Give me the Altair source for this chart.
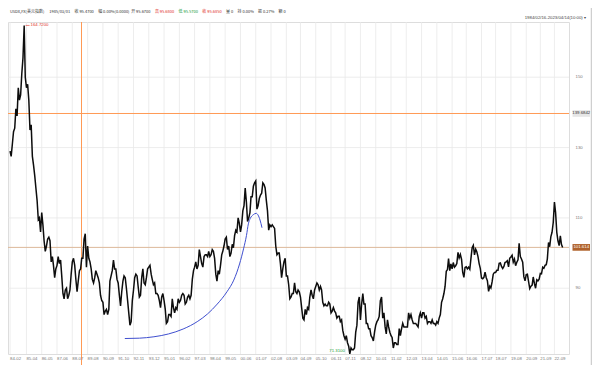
import altair as alt
import pandas as pd

# ---------------- data ----------------
# monthly USDX values, starting 1984-02
usdx_1984_1989 = [
    129.0, 127.5, 131.0, 134.5, 135.5, 141.0, 139.0, 147.0, 143.5, 145.0, 151.0,
    155.5, 164.72, 150.0, 147.0, 148.0, 143.5, 135.0, 136.5, 127.5, 125.0, 122.0, 118.5,
    115.0, 109.5, 110.0, 106.0, 111.5, 108.0, 103.5, 100.5, 102.0, 104.0, 104.5, 103.5,
    97.5, 99.0, 96.5, 93.0, 95.5, 96.5, 99.0, 97.0, 98.0, 93.5, 88.5, 87.0,
    89.5, 90.0, 87.0, 88.0, 89.5, 94.0, 97.5, 98.5, 96.5, 92.5, 89.0, 92.0,
    95.0, 95.5, 98.5, 98.5, 104.0, 105.5, 96.0, 102.0, 98.5, 97.5, 95.5, 92.5,
]
usdx_1990s = [
    91.5, 93.0, 95.0, 94.0, 93.0, 91.5, 88.0, 86.5, 86.0, 82.5, 83.5, 84.0,
    82.5, 84.0, 92.0, 93.5, 95.0, 98.0, 95.5, 95.5, 92.5, 91.5, 88.0, 85.0,
    89.0, 92.0, 93.5, 93.0, 90.0, 86.5, 83.0, 79.5, 80.5, 86.5, 89.5, 93.0,
    94.0, 93.5, 90.5, 87.5, 88.0, 93.0, 95.5, 91.5, 91.0, 93.0, 95.5, 96.0,
    96.5, 94.0, 92.5, 91.0, 91.5, 88.5, 88.5, 88.0, 86.5, 84.5, 87.5, 88.5,
    86.5, 84.0, 80.0, 80.5, 82.5, 82.5, 82.0, 87.0, 84.5, 83.0, 84.5, 84.0,
    87.0, 86.0, 86.5, 88.0, 88.5, 88.0, 85.5, 86.0, 87.5, 88.0, 87.0, 88.0,
    92.5, 95.0, 96.0, 97.5, 95.5, 96.5, 101.0, 99.0, 97.0, 96.0, 99.0, 99.5,
    99.5, 99.0, 100.5, 99.0, 99.5, 101.0, 100.5, 98.5, 94.0, 92.0, 95.0, 94.0,
    96.5, 99.5, 100.5, 102.0, 104.0, 104.5, 101.0, 102.0, 99.0, 100.0, 102.5, 101.5,
]
usdx_2000s = [
    105.0, 106.5, 106.0, 110.0, 108.5, 106.0, 108.0, 112.0, 113.5, 118.5, 114.5, 109.0,
    110.0, 111.5, 116.0, 116.0, 119.0, 120.0, 120.5, 112.5, 113.5, 115.5, 116.5, 117.0,
    120.0, 119.5, 118.5, 115.0, 112.0, 106.5, 108.0, 107.5, 108.0, 107.5, 107.0, 102.0,
    99.5, 100.0, 100.0, 97.0, 93.0, 95.5, 97.5, 98.5, 93.5, 93.5, 91.0, 87.0,
    87.5, 88.5, 88.5, 91.5, 89.0, 88.5, 89.5, 89.0, 87.5, 84.5, 81.5, 81.0,
    84.0, 82.5, 84.5, 84.0, 87.5, 89.5, 88.0, 87.0, 89.5, 90.5, 91.5, 91.0,
    89.5, 90.5, 89.5, 86.0, 85.0, 85.5, 85.0, 85.0, 86.0, 85.5, 83.0, 83.5,
    84.5, 83.5, 83.0, 81.5, 82.0, 82.0, 80.5, 81.0, 78.0, 76.5, 75.5, 76.5,
    74.5, 73.5, 71.31, 73.0, 72.5, 72.5, 73.0, 77.5, 79.5, 86.0, 87.5, 81.0,
    85.5, 88.5, 85.5, 85.5, 80.0, 80.0, 78.5, 78.5, 76.5, 76.0, 75.0, 77.5,
]
usdx_2010s = [
    79.5, 80.5, 81.0, 82.0, 86.5, 87.5, 81.5, 83.0, 79.0, 77.0, 81.0, 79.0,
    77.5, 76.5, 76.0, 73.0, 74.5, 74.5, 74.0, 74.0, 78.5, 76.5, 78.5, 80.0,
    79.0, 79.0, 79.0, 79.0, 83.0, 81.5, 82.5, 81.0, 80.0, 80.0, 80.0, 79.5,
    79.0, 82.0, 83.0, 81.5, 83.0, 83.0, 81.5, 82.0, 80.0, 80.5, 80.5, 80.0,
    81.0, 80.0, 80.0, 79.5, 80.5, 80.0, 81.5, 82.5, 86.0, 87.0, 88.5, 90.5,
    94.8, 95.3, 98.4, 95.0, 96.9, 95.5, 97.3, 96.0, 96.4, 97.0, 100.2, 98.6,
    99.6, 98.2, 94.6, 93.1, 95.9, 96.1, 95.5, 96.0, 95.4, 98.5, 101.5, 102.2,
    99.5, 101.1, 100.4, 99.0, 97.0, 95.6, 92.9, 92.7, 93.1, 94.6, 93.0, 92.1,
    89.1, 90.6, 90.1, 91.8, 94.0, 94.5, 94.5, 95.1, 95.1, 97.1, 97.2, 96.2,
    95.6, 96.2, 97.3, 97.5, 97.8, 96.1, 98.5, 98.9, 99.4, 97.4, 98.3, 96.4,
]
usdx_2020s = [
    97.4, 98.1, 102.8, 99.0, 98.3, 97.4, 93.3, 92.1, 93.9, 94.0, 91.9, 89.9,
    90.6, 90.9, 93.2, 91.3, 90.0, 92.4, 92.1, 92.6, 94.2, 94.1, 96.0, 95.7,
    96.5, 96.7, 98.3, 103.0, 101.8, 104.7, 105.9, 108.7, 114.5, 111.5, 105.9, 103.5,
    102.1, 104.9, 102.5, 101.61,
]

# hand-drawn blue curve
curve_dates = ["1992-04-04", "1993-04-15", "1994-04-27", "1995-05-10", "1996-05-22",
               "1997-06-06", "1998-02-14", "1998-10-23", "1999-07-01", "1999-12-24",
               "2000-05-22", "2000-09-02", "2000-11-17", "2001-01-05", "2001-02-25",
               "2001-05-12", "2001-07-27", "2001-09-13", "2001-11-03", "2001-12-24"]
curve_values = [75.7, 75.8, 76.2, 77.0, 78.4, 80.6, 82.7, 85.5, 89.0, 92.3,
                96.9, 101.2, 105.0, 108.3, 109.9, 110.9, 111.3, 110.8, 109.4, 107.2]

# x-axis tick labels
tick_labels = ["84-02", "85-04", "86-05", "87-06", "88-07", "89-08", "90-09", "91-10",
               "92-11", "93-12", "95-01", "96-02", "97-03", "98-04", "99-05", "00-06",
               "01-07", "02-08", "03-09", "04-09", "05-10", "06-11", "07-11", "08-12",
               "10-01", "11-02", "12-03", "13-04", "14-05", "15-06", "16-06", "17-07",
               "18-07", "19-08", "20-09", "21-09", "22-09"]
y_ticks = [90, 110, 130, 150]

high_date, high_value, high_label = "1985-02-25", 164.72, "164.7200"
low_date, low_value, low_label = "2008-03-17", 71.31, "71.3100"
cross_date = "1989-03-10"
cross_value, cross_label = 139.6842, "139.6842"
last_value, last_label = 101.614, "101.614"

header_texts = ["USDX,FX(美元指数)", "1985/03/01", "收 95.4700", "幅 0.00%(0.0000)",
                "开 95.6700", "高 95.6800", "低 95.5700", "收 95.6850", "量 0",
                "持 0.00%", "振 0.27%", "额 0"]
header_colors = ["#333333", "#333333", "#333333", "#333333", "#333333", "#e0302a",
                 "#1a9a3a", "#e0302a", "#333333", "#333333", "#333333", "#333333"]
header_x = [1.9, 41.2, 66.5, 90.2, 123.2, 146.9, 170.6, 194.3, 218.0, 229.6, 250.1, 270.6]
range_text = "1984/02/16-2023/04/14(10:00) ▾"

# ---------------- build ----------------
W, H = 561, 332
values = usdx_1984_1989 + usdx_1990s + usdx_2000s + usdx_2010s + usdx_2020s
dates = pd.date_range("1984-02-01", periods=len(values), freq="MS") + pd.Timedelta(days=14)
price = pd.DataFrame({"date": dates.strftime("%Y-%m-%d"), "v": values})
curve = pd.DataFrame({"date": curve_dates, "v": curve_values})


def label_date(lab):
    yy, mm = int(lab[:2]), int(lab[3:])
    year = 1900 + yy if yy >= 50 else 2000 + yy
    return f"{year}-{mm:02d}-15"


ticks = pd.DataFrame({"t": tick_labels, "date": [label_date(l) for l in tick_labels]})
yt = pd.DataFrame({"v": y_ticks, "t": [str(v) for v in y_ticks]})

FONT = "Liberation Sans"
xscale = alt.Scale(domain=[alt.DateTime(year=1983, month=12, date=24),
                           alt.DateTime(year=2023, month=9, date=27)])
yscale = alt.Scale(domain=[71.3, 165.7], nice=False, zero=False)


def X():
    return alt.X("date:T", scale=xscale, axis=None)


def Y():
    return alt.Y("v:Q", scale=yscale, axis=None)


GRID = "#e8e8e8"
CROSS = "#ff9a55"
LAST = "#dcb899"

hgrid = alt.Chart(yt).mark_rule(color=GRID, strokeWidth=0.8).encode(
    y=Y(), x=alt.value(0), x2=alt.value(W))
ylabels = alt.Chart(yt).mark_text(fontSize=4.3, font=FONT, color="#777", align="left",
                                  baseline="middle").encode(
    y=Y(), x=alt.value(W + 6.5), text="t:N")

vgrid = alt.Chart(ticks).mark_rule(color=GRID, strokeWidth=0.8).encode(
    x=X(), y=alt.value(0), y2=alt.value(H))
xlabels = alt.Chart(ticks).mark_text(fontSize=4.3, font=FONT, color="#777", align="left",
                                     baseline="middle").encode(
    x=X(), y=alt.value(H + 5.2), text="t:N")

line = alt.Chart(price).mark_line(color="#0d0d0d", strokeWidth=1.5).encode(x=X(), y=Y())

blue = alt.Chart(curve).mark_line(color="#3f4fcf", strokeWidth=1,
                                  interpolate="monotone").encode(x=X(), y=Y())

vcross = alt.Chart(pd.DataFrame({"date": [cross_date]})).mark_rule(
    stroke=CROSS, strokeWidth=1).encode(
    x=X(), y=alt.value(0), y2=alt.value(H + 11))

hcross = alt.Chart(pd.DataFrame({"v": [cross_value]})).mark_rule(
    stroke=CROSS, strokeWidth=1).encode(y=Y(), x=alt.value(0), x2=alt.value(W))
hlast = alt.Chart(pd.DataFrame({"v": [last_value]})).mark_rule(
    stroke=LAST, strokeWidth=1).encode(y=Y(), x=alt.value(0), x2=alt.value(W))

boxes = pd.DataFrame({"v": [cross_value, last_value], "t": [cross_label, last_label],
                      "bg": ["#e6e6e6", "#b0622c"], "fg": ["#333333", "#ffffff"]})
box_rect = alt.Chart(boxes).transform_calculate(
    lo="datum.v - 0.95", hi="datum.v + 0.95").mark_rect().encode(
    y=alt.Y("lo:Q", scale=yscale, axis=None), y2="hi:Q",
    x=alt.value(W + 3.5), x2=alt.value(W + 21),
    color=alt.Color("bg:N", scale=None))
box_text = alt.Chart(boxes).mark_text(fontSize=4.3, font=FONT, align="center",
                                      baseline="middle").encode(
    y=Y(), x=alt.value(W + 12.25), text="t:N", color=alt.Color("fg:N", scale=None))

hi_df = pd.DataFrame({"date": [high_date], "v": [high_value], "t": [high_label]})
hi_tick = alt.Chart(hi_df).mark_rule(color="#e0302a", strokeWidth=0.6, xOffset=1,
                                     x2Offset=5).encode(x=X(), x2="date:T", y=Y())
hi_text = alt.Chart(hi_df).mark_text(color="#e0302a", fontSize=4.3, font=FONT, align="left",
                                     baseline="middle", dx=6).encode(x=X(), y=Y(), text="t:N")

lo_df = pd.DataFrame({"date": [low_date], "v": [low_value], "t": [low_label]})
lo_text = alt.Chart(lo_df).mark_text(color="#1a9a3a", fontSize=4.3, font=FONT, align="right",
                                     baseline="middle", dx=-5, dy=-3).encode(
    x=X(), y=Y(), text="t:N")

hdr = pd.DataFrame({"t": header_texts, "c": header_colors, "x": header_x})
header = alt.Chart(hdr).mark_text(fontSize=4, font="Noto Sans CJK SC", align="left",
                                  baseline="middle").encode(
    x=alt.X("x:Q", scale=None, axis=None), y=alt.value(-9.6), text="t:N",
    color=alt.Color("c:N", scale=None))

rng = alt.Chart(pd.DataFrame({"t": [range_text]})).mark_text(
    fontSize=4.3, font=FONT, align="right", baseline="middle", color="#444").encode(
    x=alt.value(W + 17), y=alt.value(-3.9), text="t:N")

border = alt.Chart(pd.DataFrame({"a": [0]})).mark_rule(color="#c4c4c4", strokeWidth=1).encode(
    x=alt.value(W + 22.3), y=alt.value(-14), y2=alt.value(H + 11))

chart = alt.layer(
    hgrid, vgrid, vcross, hcross, hlast, line, blue, hi_tick, hi_text, lo_text,
    box_rect, box_text, xlabels, ylabels, header, rng, border,
).properties(
    width=W, height=H,
    autosize=alt.AutoSizeParams(type="none"),
    padding={"left": 0, "top": 14, "right": 23, "bottom": 11},
).configure_view(stroke=None).configure(background="white")

chart.save("out.html", embed_options={"renderer": "svg", "actions": False})
